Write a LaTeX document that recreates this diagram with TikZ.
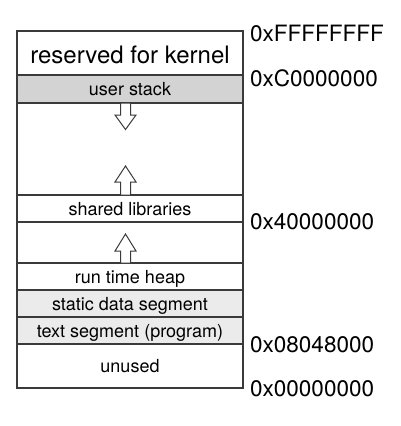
\documentclass[tikz,border=0pt]{standalone}
\usepackage{fontspec}
\setmainfont{TeX Gyre Heros}
\definecolor{stackgray}{HTML}{D3D3D3}
\definecolor{seggray}{HTML}{EBEBEB}
\definecolor{linegray}{HTML}{3A3A3A}
\begin{document}
\begin{tikzpicture}[x=1pt,y=-1pt,
  seg/.style={draw=linegray,line width=1.1pt,minimum width=226pt,inner sep=0pt,
    text height=14pt,text depth=1pt,font=\fontsize{18}{21}\selectfont},
  addr/.style={anchor=west,inner sep=0pt,font=\fontsize{22.5}{26}\selectfont},
  blockarrow/.style={draw=linegray,line width=1pt,fill=white,line join=miter}]
\useasboundingbox (0,0) rectangle (400,426);
\node[seg,minimum height=44pt,font=\fontsize{24}{28}\selectfont,text height=20pt,text depth=0pt] (kernel) at (130,53) {reserved for kernel};
\node[seg,minimum height=28pt,fill=stackgray] (stack) at (130,89) {user stack};
\node[seg,minimum height=92pt] (gapA) at (130,149) {};
\node[seg,minimum height=27pt] (shared) at (130,208.5) {shared libraries};
\node[seg,minimum height=41pt] (gapB) at (130,242.5) {};
\node[seg,minimum height=27pt] (heap) at (130,276.5) {run time heap};
\node[seg,minimum height=27pt,fill=seggray] (static) at (130,303.5) {static data segment};
\node[seg,minimum height=27pt,fill=seggray] (text) at (130,330.5) {text segment (program)};
\node[seg,minimum height=44pt] (unused) at (130,366) {unused};
% block arrows
\draw[blockarrow] (120.5,103) -- (130.5,103) -- (130.5,115) -- (136,115) -- (125.5,129.5) -- (115,115) -- (120.5,115) -- cycle;
\draw[blockarrow] (120.5,195) -- (130.5,195) -- (130.5,182) -- (136,182) -- (125.5,166) -- (115,182) -- (120.5,182) -- cycle;
\draw[blockarrow] (120.5,263) -- (130.5,263) -- (130.5,251) -- (136,251) -- (125.5,234) -- (115,251) -- (120.5,251) -- cycle;
% addresses
\node[addr] (aF) at (250,33.7) {0xFFFFFFFF};
\node[addr] (aC) at (250,78) {0xC0000000};
\node[addr] (a4) at (250,221.5) {0x40000000};
\node[addr] (a08) at (250,345) {0x08048000};
\node[addr] (a00) at (250,389) {0x00000000};
\end{tikzpicture}
\end{document}
